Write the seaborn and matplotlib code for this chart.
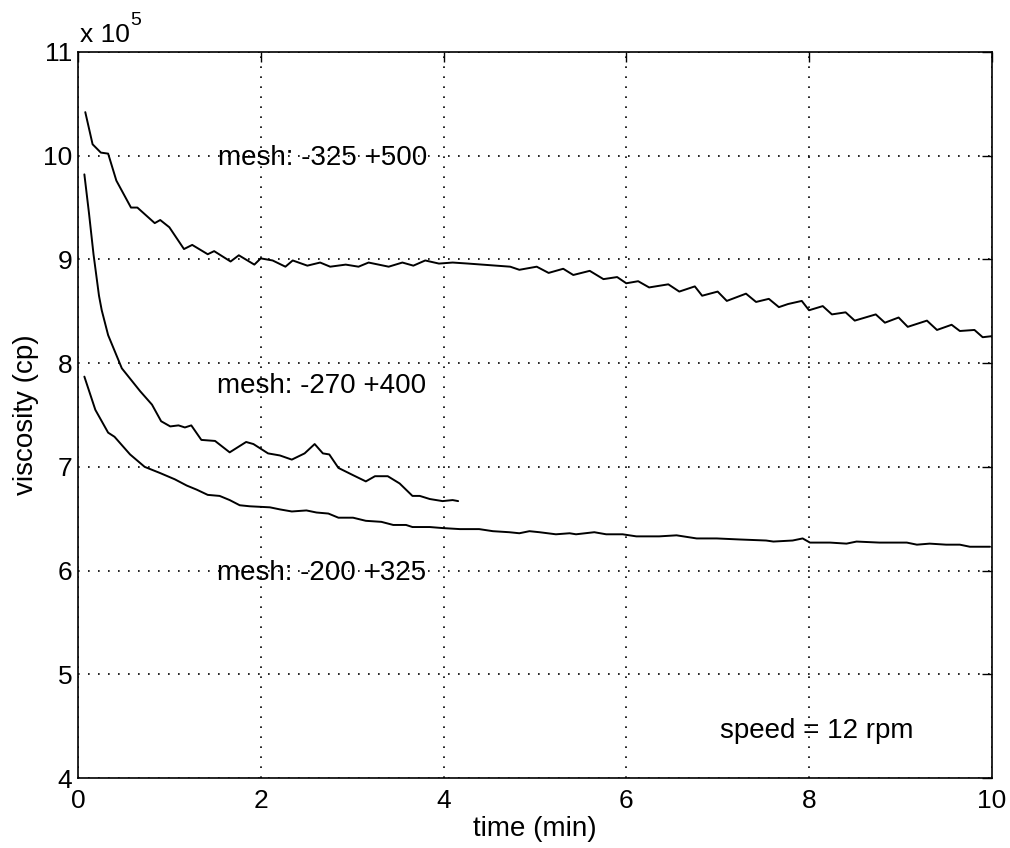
#!/usr/bin/env python3
import seaborn as sns
import pandas as pd
import numpy as np
import matplotlib
import matplotlib.pyplot as plt
from matplotlib import rcParams

sns.set_style("white")
rcParams['font.family'] = ['Liberation Sans', 'DejaVu Sans']
rcParams['font.size'] = 20
rcParams['text.color'] = 'black'
rcParams['axes.labelcolor'] = 'black'

# viscosity in units of 1e5 cp
t_325_500 = [0.08, 0.16, 0.25, 0.33, 0.42, 0.58, 0.65, 0.84, 0.90, 1.00, 1.16, 1.25, 1.42, 1.49,
             1.67, 1.76, 1.93, 2.00, 2.13, 2.27, 2.35, 2.51, 2.65, 2.76, 2.93, 3.07, 3.18, 3.40,
             3.55, 3.67, 3.80, 3.95, 4.10, 4.27, 4.73, 4.83, 5.02, 5.15, 5.31, 5.42, 5.60, 5.75,
             5.90, 6.00, 6.13, 6.25, 6.46, 6.58, 6.75, 6.83, 7.00, 7.10, 7.31, 7.42, 7.56, 7.67,
             7.77, 7.92, 8.00, 8.15, 8.25, 8.40, 8.50, 8.73, 8.83, 8.98, 9.08, 9.29, 9.40, 9.56,
             9.65, 9.81, 9.90, 10.0]
v_325_500 = [10.42, 10.11, 10.03, 10.02, 9.76, 9.50, 9.50, 9.35, 9.38, 9.31, 9.10, 9.14, 9.05, 9.08,
             8.98, 9.04, 8.95, 9.01, 8.99, 8.93, 8.99, 8.94, 8.97, 8.93, 8.95, 8.93, 8.97, 8.93,
             8.97, 8.94, 8.99, 8.96, 8.97, 8.96, 8.93, 8.90, 8.93, 8.87, 8.91, 8.85, 8.89, 8.81,
             8.83, 8.77, 8.79, 8.73, 8.76, 8.69, 8.74, 8.65, 8.69, 8.60, 8.67, 8.59, 8.62, 8.54,
             8.57, 8.60, 8.51, 8.55, 8.47, 8.49, 8.41, 8.47, 8.39, 8.44, 8.35, 8.41, 8.32, 8.37,
             8.31, 8.32, 8.25, 8.26]

t_270_400 = [0.07, 0.12, 0.17, 0.23, 0.26, 0.33, 0.48, 0.68, 0.81, 0.91, 1.01, 1.10, 1.17, 1.24,
             1.35, 1.50, 1.66, 1.84, 1.92, 2.08, 2.21, 2.34, 2.48, 2.59, 2.68, 2.75, 2.85, 3.01,
             3.15, 3.25, 3.39, 3.52, 3.66, 3.74, 3.85, 3.99, 4.10, 4.16]
v_270_400 = [9.82, 9.45, 9.05, 8.65, 8.51, 8.27, 7.95, 7.73, 7.60, 7.44, 7.39, 7.40, 7.38, 7.40,
             7.26, 7.25, 7.14, 7.24, 7.22, 7.13, 7.11, 7.07, 7.13, 7.22, 7.13, 7.12, 6.99, 6.92,
             6.86, 6.91, 6.91, 6.84, 6.72, 6.72, 6.69, 6.67, 6.68, 6.67]

t_200_325 = [0.07, 0.19, 0.33, 0.40, 0.57, 0.73, 0.90, 1.06, 1.19, 1.30, 1.42, 1.55, 1.66, 1.77,
             1.88, 2.10, 2.21, 2.34, 2.50, 2.61, 2.74, 2.85, 3.01, 3.15, 3.32, 3.45, 3.59, 3.66,
             3.85, 3.99, 4.18, 4.39, 4.54, 4.72, 4.83, 4.94, 5.05, 5.23, 5.38, 5.45, 5.65, 5.78,
             5.96, 6.11, 6.36, 6.55, 6.77, 6.99, 7.24, 7.53, 7.61, 7.82, 7.93, 8.01, 8.23, 8.41,
             8.52, 8.77, 9.07, 9.18, 9.32, 9.50, 9.65, 9.76, 9.98]
v_200_325 = [7.87, 7.55, 7.33, 7.29, 7.12, 7.00, 6.94, 6.88, 6.82, 6.78, 6.73, 6.72, 6.68, 6.63,
             6.62, 6.61, 6.59, 6.57, 6.58, 6.56, 6.55, 6.51, 6.51, 6.48, 6.47, 6.44, 6.44, 6.42,
             6.42, 6.41, 6.40, 6.40, 6.38, 6.37, 6.36, 6.38, 6.37, 6.35, 6.36, 6.35, 6.37, 6.35,
             6.35, 6.33, 6.33, 6.34, 6.31, 6.31, 6.30, 6.29, 6.28, 6.29, 6.31, 6.27, 6.27, 6.26,
             6.28, 6.27, 6.27, 6.25, 6.26, 6.25, 6.25, 6.23, 6.23]

labels = ["mesh: -325 +500", "mesh: -270 +400", "mesh: -200 +325"]
label_pos = [(1.53, 9.98), (1.52, 7.78), (1.52, 5.98)]


def main():
    frames = []
    for lab, t, v in zip(labels, [t_325_500, t_270_400, t_200_325],
                         [v_325_500, v_270_400, v_200_325]):
        frames.append(pd.DataFrame({"time": t, "viscosity": v, "mesh": lab}))
    df = pd.concat(frames, ignore_index=True)

    fig = plt.figure(figsize=(10.1, 8.48), dpi=100)
    ax = fig.add_axes([0.0772, 0.0825, 0.9048, 0.8562])

    sns.lineplot(data=df, x="time", y="viscosity", hue="mesh",
                 palette=["black"] * 3, estimator=None, sort=False,
                 linewidth=1.4, legend=False, ax=ax)

    ax.set_xlim(0, 10)
    ax.set_ylim(4, 11)
    ax.set_xticks([0, 2, 4, 6, 8, 10])
    ax.set_yticks([4, 5, 6, 7, 8, 9, 10, 11])
    ax.grid(True, color="black", linestyle=(0, (1, 5)), linewidth=1.2)
    for s in ax.spines.values():
        s.set_color("black")
        s.set_linewidth(1.2)
    ax.tick_params(direction="in", top=True, right=True, length=7, width=1,
                   labelsize=19, colors="black")
    ax.tick_params(axis="y", pad=4)
    ax.tick_params(axis="x", pad=8)

    ax.set_xlabel("time (min)", fontsize=20, labelpad=2)
    ax.set_ylabel("viscosity (cp)", fontsize=20, labelpad=3)

    for lab, (x, y) in zip(labels, label_pos):
        ax.text(x, y, lab, fontsize=20, ha="left", va="center")
    ax.text(7.03, 4.45, "speed = 12 rpm", fontsize=20, ha="left", va="center")

    # Matlab style exponent label
    ax.text(0.002, 1.0138, "x 10", transform=ax.transAxes, fontsize=19,
            ha="left", va="baseline")
    ax.text(0.057, 1.037, "5", transform=ax.transAxes, fontsize=14,
            ha="left", va="baseline")

    fig.savefig("out.png", dpi=100)


if __name__ == '__main__':
    main()
